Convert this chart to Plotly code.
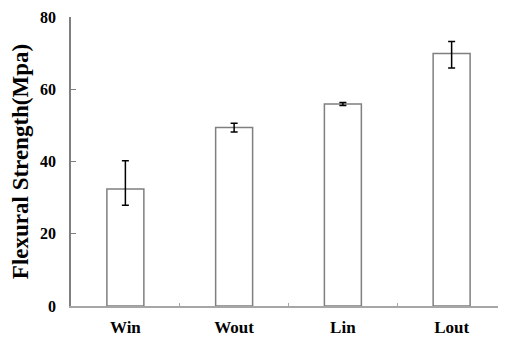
import plotly.graph_objects as go

categories = ["Win", "Wout", "Lin", "Lout"]
strength = [32.4, 49.4, 55.9, 69.9]
err_plus = [7.8, 1.2, 0.4, 3.3]
err_minus = [4.5, 1.2, 0.4, 4.0]
y_ticks = [0, 20, 40, 60, 80]

font_family = "Liberation Serif, Times New Roman, serif"

fig = go.Figure(
    go.Bar(
        x=categories,
        y=strength,
        width=0.34,
        marker=dict(color="white", line=dict(color="#7f7f7f", width=1.5)),
        error_y=dict(
            type="data",
            symmetric=False,
            array=err_plus,
            arrayminus=err_minus,
            color="black",
            thickness=1.5,
            width=3.5,
        ),
    )
)

# page body has an 8px default margin, so the figure is sized to compensate
fig.update_layout(
    width=498,
    height=331,
    margin=dict(l=63, r=0, t=9, b=33),
    paper_bgcolor="white",
    plot_bgcolor="white",
    showlegend=False,
    font=dict(family=font_family, color="black"),
)

fig.update_xaxes(
    showline=True,
    linecolor="#a6a6a6",
    linewidth=1.5,
    ticks="inside",
    ticklen=3,
    tickcolor="#a6a6a6",
    tickson="boundaries",
    showgrid=False,
    automargin=False,
    tickfont=dict(size=17, family=font_family, weight="bold"),
    ticklabelstandoff=5,
)

fig.update_yaxes(
    range=[0, 80],
    tickvals=y_ticks,
    showline=True,
    linecolor="#7f7f7f",
    linewidth=1.5,
    ticks="inside",
    ticklen=5,
    tickcolor="#7f7f7f",
    showgrid=False,
    zeroline=False,
    automargin=False,
    ticklabeloverflow="allow",
    tickfont=dict(size=16, family=font_family, weight="bold"),
    ticklabelstandoff=10,
    title=dict(
        text="Flexural Strength(Mpa)",
        font=dict(size=23, family=font_family, weight="bold"),
        standoff=7,
    ),
)

fig.write_html("out.html")
